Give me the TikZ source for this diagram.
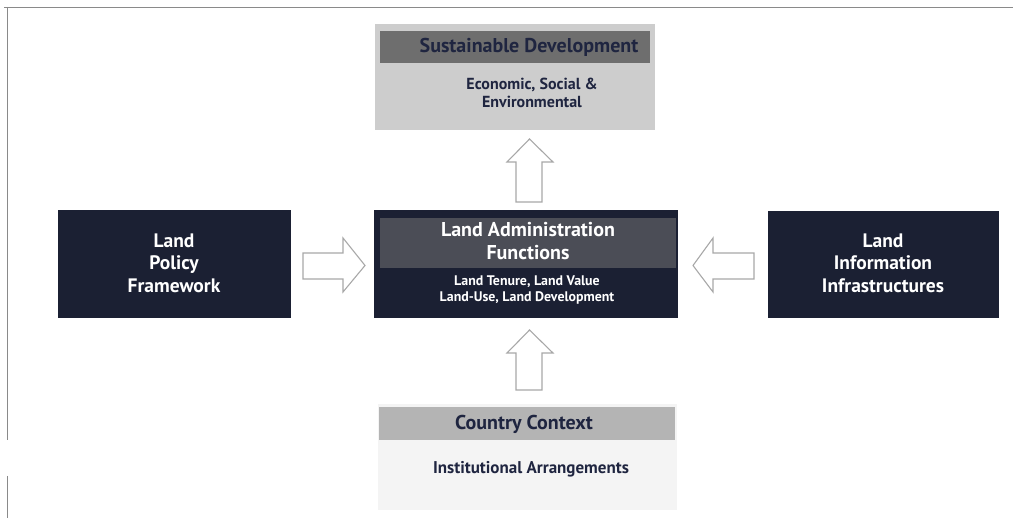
\documentclass[tikz,border=0pt]{standalone}
\usepackage{fontspec}
\setmainfont{PT Sans}
\definecolor{navy}{HTML}{1B2033}
\definecolor{navytext}{HTML}{1F2540}
\definecolor{midhead}{HTML}{4B4D56}
\definecolor{toplight}{HTML}{CDCDCD}
\definecolor{tophead}{HTML}{6E6E6E}
\definecolor{botlight}{HTML}{F4F4F4}
\definecolor{bothead}{HTML}{B4B4B4}
\definecolor{framegray}{HTML}{8A8A8A}
\definecolor{arrowgray}{HTML}{A8A8A8}
\tikzset{
  box/.style={rectangle, inner sep=0pt, draw=none},
  darkbox/.style={box, fill=navy},
  whitetxt/.style={text=white, font=\bfseries, align=center, inner sep=0pt},
  darktxt/.style={text=navytext, font=\bfseries, align=center, inner sep=0pt},
  blockarrow/.style={draw=arrowgray, line width=1.1pt, fill=white, line join=miter},
}
\begin{document}
\begin{tikzpicture}[x=1pt,y=-1pt]
\useasboundingbox (0,0) rectangle (1013,518);
% frame
\draw[framegray, line width=0.8pt] (4,7) -- (1013,7);
\draw[framegray, line width=0.8pt] (7,7) -- (7,440);
\draw[framegray, line width=0.8pt] (7,476) -- (7,518);

% top box
\node[box, fill=toplight, minimum width=280pt, minimum height=106pt] (sd) at (515,77) {};
\node[box, fill=tophead, minimum width=270pt, minimum height=32pt] (sdh) at (515,47) {};
\node[darktxt, font=\bfseries\fontsize{20}{22}\selectfont] (sdt) at (529,47) {Sustainable Development};
\node[darktxt, font=\bfseries\fontsize{16}{17.5}\selectfont] (sdsub) at (532,93) {Economic, Social \&\\Environmental};

% center box
\node[darkbox, minimum width=304pt, minimum height=108pt] (la) at (526,264) {};
\node[box, fill=midhead, minimum width=296pt, minimum height=50pt] (lah) at (528,243) {};
\node[whitetxt, font=\bfseries\fontsize{20}{22.5}\selectfont] (lat) at (528,241) {Land Administration\\Functions};
\node[whitetxt, font=\bfseries\fontsize{13.9}{15.5}\selectfont] (lasub) at (527,290) {Land Tenure, Land Value\\Land-Use, Land Development};

% left box
\node[darkbox, minimum width=233pt, minimum height=108pt] (lp) at (174,264) {};
\node[whitetxt, font=\bfseries\fontsize{19.5}{22.5}\selectfont] (lpt) at (174,263) {Land\\Policy\\Framework};

% right box
\node[darkbox, minimum width=231pt, minimum height=107pt] (li) at (883,265) {};
\node[whitetxt, font=\bfseries\fontsize{19.5}{22.5}\selectfont] (lit) at (883,263) {Land\\Information\\Infrastructures};

% bottom box
\node[box, fill=botlight, minimum width=299pt, minimum height=106pt] (cc) at (527,457) {};
\node[box, fill=bothead, minimum width=296pt, minimum height=33pt] (cch) at (527,423.5) {};
\node[darktxt, font=\bfseries\fontsize{20}{22}\selectfont] (cct) at (524,424) {Country Context};
\node[darktxt, font=\bfseries\fontsize{17}{19}\selectfont] (ccsub) at (531,469) {Institutional Arrangements};

% block arrows
% left -> center
\draw[blockarrow] (303,253) -- (343,253) -- (343,238) -- (365,265.5) -- (343,292) -- (343,279) -- (303,279) -- cycle;
% right -> center
\draw[blockarrow] (754,253) -- (713,253) -- (713,238) -- (693,265.5) -- (713,292) -- (713,279) -- (754,279) -- cycle;
% center -> top
\draw[blockarrow] (516,202) -- (516,162) -- (507,162) -- (529.5,139) -- (553,162) -- (542,162) -- (542,202) -- cycle;
% bottom -> center
\draw[blockarrow] (516,390) -- (516,353) -- (507,353) -- (529.5,330) -- (553,353) -- (542,353) -- (542,390) -- cycle;
\end{tikzpicture}
\end{document}
